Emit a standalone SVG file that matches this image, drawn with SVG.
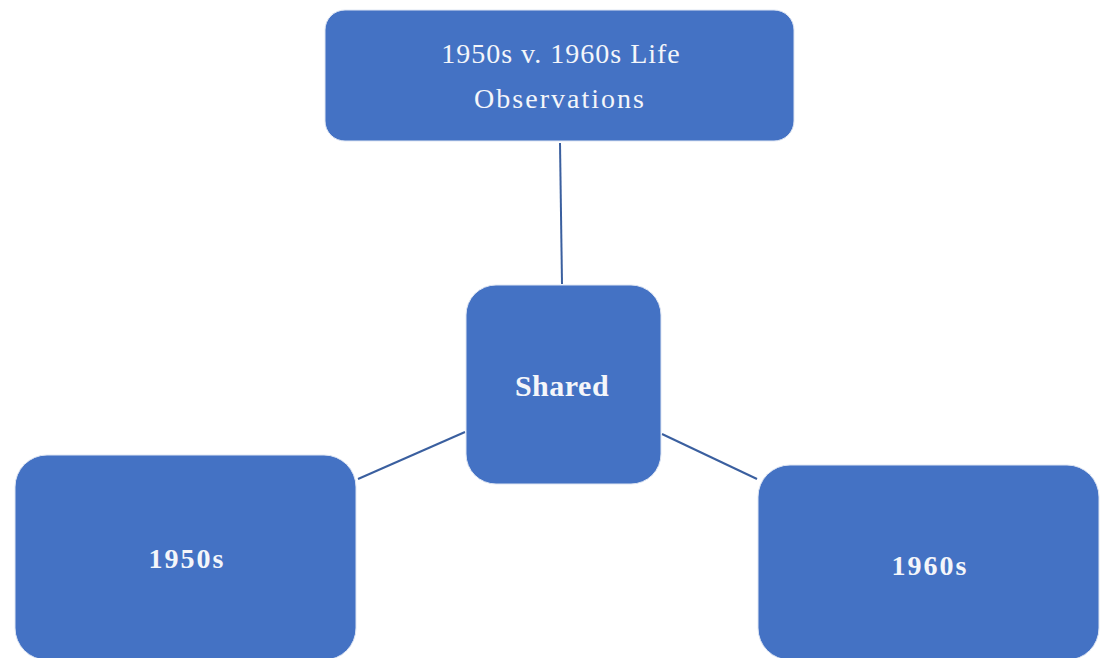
<svg xmlns="http://www.w3.org/2000/svg" width="1107" height="658" viewBox="0 0 1107 658">
<style>
.box{fill:#4472C4;stroke:#dfe6f3;stroke-width:1}
.t{font-family:"Liberation Serif","Times New Roman",serif;fill:#f4f6fa;text-anchor:middle}
.b{font-weight:bold}
.c{stroke:#3a5f9f;stroke-width:2;fill:none}
</style>
<rect width="1107" height="658" fill="#ffffff"/>
<g id="connectors">
<line class="c" x1="560" y1="143" x2="562" y2="284"/>
<line class="c" x1="465" y1="432" x2="358" y2="479"/>
<line class="c" x1="662" y1="434" x2="757" y2="479"/>
</g>
<g id="node-title">
<rect class="box" x="325" y="10" width="469" height="131" rx="20"/>
<text class="t" x="561" y="63" font-size="28" letter-spacing="1">1950s v. 1960s Life</text>
<text class="t" x="560" y="108" font-size="28" letter-spacing="2">Observations</text>
</g>
<g id="node-shared">
<rect class="box" x="466" y="285" width="195" height="199" rx="30"/>
<text class="t b" x="562" y="396" font-size="30" letter-spacing="0.5">Shared</text>
</g>
<g id="node-1950s">
<rect class="box" x="15" y="455" width="341" height="205" rx="32"/>
<text class="t b" x="187" y="568" font-size="28" letter-spacing="2">1950s</text>
</g>
<g id="node-1960s">
<rect class="box" x="758" y="465" width="341" height="195" rx="32"/>
<text class="t b" x="930" y="575" font-size="28" letter-spacing="2">1960s</text>
</g>
</svg>
